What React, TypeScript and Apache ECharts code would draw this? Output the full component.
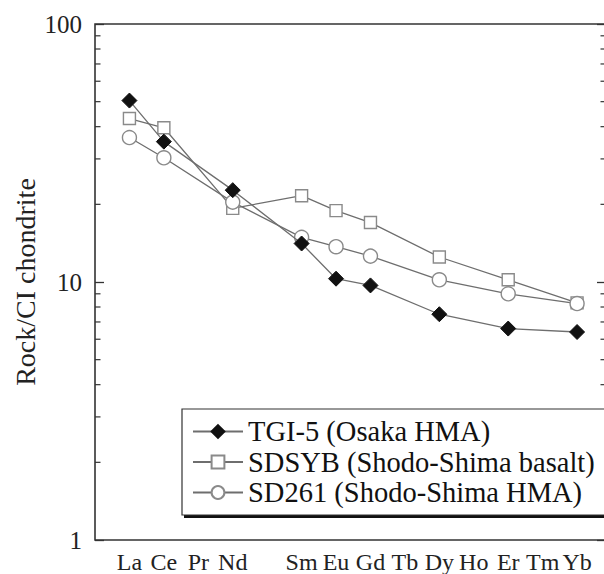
import React, { useEffect, useRef } from "react";
import * as echarts from "echarts";

const elements = ["La", "Ce", "Pr", "Nd", "Pm", "Sm", "Eu", "Gd", "Tb", "Dy", "Ho", "Er", "Tm", "Yb"];
const elementLabels = ["La", "Ce", "Pr", "Nd", "", "Sm", "Eu", "Gd", "Tb", "Dy", "Ho", "Er", "Tm", "Yb"];

const tgi5 = [50.5, 35, null, 22.7, null, 14.1, 10.3, 9.7, null, 7.5, null, 6.6, null, 6.4];
const sdsyb = [43, 39.6, null, 19.3, null, 21.6, 18.9, 17.0, null, 12.5, null, 10.2, null, 8.3];
const sd261 = [36.3, 30.3, null, 20.4, null, 14.9, 13.7, 12.6, null, 10.2, null, 9.0, null, 8.25];

const seriesNames = ["TGI-5 (Osaka HMA)", "SDSYB (Shodo-Shima basalt)", "SD261 (Shodo-Shima HMA)"];
const yTicks = [1, 10, 100];
const minorTicks = [2, 3, 4, 5, 6, 7, 8, 9, 20, 30, 40, 50, 60, 70, 80, 90];

const X_MIN = -1;
const X_MAX = 13.84;

function toPairs(vals: (number | null)[]) {
  const out: [number, number][] = [];
  vals.forEach((v, i) => {
    if (v != null) out.push([i, v]);
  });
  return out;
}

const FONT = "Liberation Serif";

export default function App() {
  const ref = useRef<HTMLDivElement>(null);
  useEffect(() => {
    if (!ref.current) return;
    const chart = echarts.init(ref.current, null, { renderer: "svg" });
    const lineColor = "#6e6e6e";
    const option: any = {
      animation: false,
      grid: {
        left: 95,
        top: 24,
        width: 511,
        height: 516,
        show: true,
        borderColor: "#333",
        borderWidth: 1.6,
        outerBoundsMode: "none",
        containLabel: false,
      },
      xAxis: {
        type: "value",
        min: X_MIN,
        max: X_MAX,
        interval: 1,
        axisLine: { show: false, onZero: false },
        axisTick: { show: false },
        splitLine: { show: false },
        axisLabel: {
          margin: 12,
          fontSize: 24,
          lineHeight: 20,
          fontFamily: FONT,
          color: "#222",
          showMaxLabel: false,
          formatter: (v: number) => {
            const i = Math.round(v);
            if (Math.abs(v - i) > 1e-6) return "";
            return elementLabels[i] ?? "";
          },
        },
      },
      yAxis: [
        {
          type: "log",
          logBase: 10,
          min: yTicks[0],
          max: yTicks[yTicks.length - 1],
          name: "Rock/CI chondrite",
          nameLocation: "middle",
          nameGap: 56,
          nameMoveOverlap: false,
          nameTextStyle: { fontSize: 28, fontFamily: FONT, color: "#222" },
          axisLine: { show: false, onZero: false },
          axisTick: { show: true, inside: true, length: 9, lineStyle: { color: "#333", width: 1.3 } },
          splitLine: { show: false },
          axisLabel: { margin: 13, fontSize: 25, fontFamily: FONT, color: "#222" },
        },
        {
          type: "log",
          logBase: 10,
          min: yTicks[0],
          max: yTicks[yTicks.length - 1],
          position: "right",
          axisLine: { show: false, onZero: false },
          axisTick: { show: true, inside: true, length: 9, lineStyle: { color: "#333", width: 1.3 } },
          splitLine: { show: false },
          axisLabel: { show: false },
        },
      ],
      legend: {
        orient: "vertical",
        left: 192,
        top: 417,
        padding: 0,
        itemWidth: 50,
        itemHeight: 16,
        itemGap: 1.5,
        z: 10,
        data: seriesNames,
        textStyle: { fontSize: 28.5, fontFamily: FONT, color: "#111", lineHeight: 28 },
      },
      graphic: [
        { type: "rect", z: 5, shape: { x: 184, y: 412, width: 440, height: 106 }, style: { fill: "#111" } },
        {
          type: "rect",
          z: 6,
          shape: { x: 182, y: 409, width: 440, height: 106 },
          style: { fill: "#fff", stroke: "#333", lineWidth: 1.2 },
        },
      ],
      series: [
        {
          name: seriesNames[0],
          type: "line",
          data: toPairs(tgi5),
          symbol: "diamond",
          symbolSize: 15,
          lineStyle: { color: lineColor, width: 1.3 },
          itemStyle: { color: "#111", borderColor: "#111", borderWidth: 1 },
          z: 4,
        },
        {
          name: seriesNames[1],
          type: "line",
          data: toPairs(sdsyb),
          symbol: "rect",
          symbolSize: 12,
          lineStyle: { color: lineColor, width: 1.3 },
          itemStyle: { color: "#fff", borderColor: "#8a8a8a", borderWidth: 1.4 },
          z: 3,
        },
        {
          name: seriesNames[2],
          type: "line",
          data: toPairs(sd261),
          symbol: "circle",
          symbolSize: 14,
          lineStyle: { color: lineColor, width: 1.3 },
          itemStyle: { color: "#fff", borderColor: "#8a8a8a", borderWidth: 1.4 },
          z: 3,
        },
        {
          name: "minorTicks",
          type: "custom",
          clip: false,
          data: minorTicks.map((v) => [X_MIN, v]),
          renderItem: (params: any, api: any) => {
            const v = api.value(1);
            const pl = api.coord([X_MIN, v]);
            const pr = api.coord([X_MAX, v]);
            const st = { stroke: "#333", lineWidth: 1.2 };
            return {
              type: "group",
              children: [
                { type: "line", shape: { x1: pl[0], y1: pl[1], x2: pl[0] + 5.5, y2: pl[1] }, style: st },
                { type: "line", shape: { x1: pr[0], y1: pr[1], x2: pr[0] - 5.5, y2: pr[1] }, style: st },
              ],
            };
          },
        },
      ],
    };
    chart.setOption(option);
    return () => chart.dispose();
  }, []);
  return (
    <div
      ref={ref}
      style={{ position: "fixed", left: 0, top: 0, width: 604, height: 574, background: "#fff" }}
    />
  );
}
